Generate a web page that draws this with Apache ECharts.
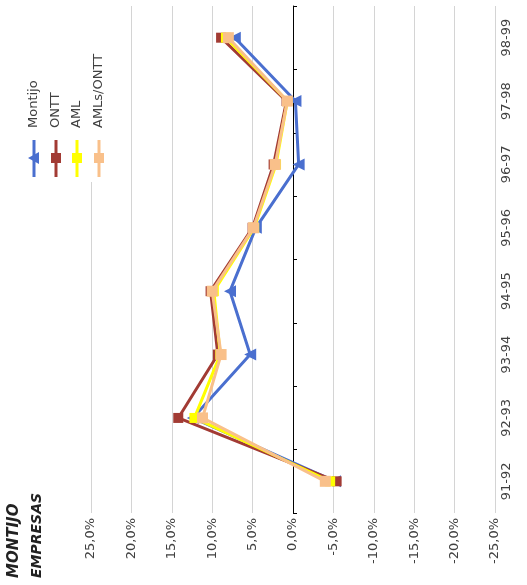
<!DOCTYPE html>
<html>
<head>
<meta charset="utf-8">
<script src="https://cdn.jsdelivr.net/npm/echarts@6/dist/echarts.min.js"></script>
<style>html,body{margin:0;padding:0;background:#fff;}#c{width:527px;height:585px;}</style>
</head>
<body>
<div id="c"></div>
<script>
const categories = ['91-92','92-93','93-94','94-95','95-96','96-97','97-98','98-99'];
const seriesNames = ['Montijo','ONTT','AML','AMLs/ONTT'];
const montijo = [-5.2, 12.4, 5.3, 7.8, 4.6, -0.7, -0.3, 7.2];
const ontt = [-5.4, 14.2, 9.3, 10.2, 5.0, 2.4, 0.8, 8.9];
const aml = [-4.6, 12.2, 9.0, 9.8, 4.8, 2.1, 0.7, 8.3];
const amlsOntt = [-4.0, 11.2, 8.9, 10.0, 4.9, 2.2, 0.7, 8.0];
const titleLines = ['MONTIJO','EMPRESAS'];

const colors = ['#4a6fcf','#a23b34','#ffff00','#f9c08a'];
const symbols = ['triangle','rect','rect','rect'];
const symbolRot = [90,0,0,0];
const symbolSizes = [12,10,10,11];
const allData = [montijo, ontt, aml, amlsOntt];
const font = '"DejaVu Sans", "Open Sans", sans-serif';

const chart = echarts.init(document.getElementById('c'), null, {renderer:'canvas'});

const legendX = [34, 56, 77, 99];
const legendGraphics = [{
  type:'rect', shape:{x:14,y:0,width:104,height:182}, style:{fill:'#fff'}, z:5
}];
seriesNames.forEach((n,i)=>{
  legendGraphics.push({type:'line', shape:{x1:legendX[i],y1:177,x2:legendX[i],y2:140}, style:{stroke:colors[i],lineWidth:3}, z:6});
  if(symbols[i]==='triangle'){
    legendGraphics.push({type:'polygon', shape:{points:[[legendX[i]-6,158],[legendX[i]+5,152],[legendX[i]+5,164]]}, style:{fill:colors[i]}, z:7});
  } else {
    legendGraphics.push({type:'rect', shape:{x:legendX[i]-5,y:153,width:10,height:10}, style:{fill:colors[i]}, z:7});
  }
  legendGraphics.push({type:'text', x:legendX[i], y:128, rotation:Math.PI/2, style:{text:n, fill:'#404040', font:'13px '+font, textAlign:'left', textVerticalAlign:'middle'}, z:7});
});
legendGraphics.push({type:'text', x:14, y:578, rotation:Math.PI/2, style:{text:titleLines[0], fill:'#222', font:'italic bold 15px '+font, textAlign:'left', textVerticalAlign:'middle'}, z:7});
legendGraphics.push({type:'text', x:37, y:578, rotation:Math.PI/2, style:{text:titleLines[1], fill:'#222', font:'italic bold 14px '+font, textAlign:'left', textVerticalAlign:'middle'}, z:7});

chart.setOption({
  animation:false,
  backgroundColor:'#fff',
  grid:{left:91, right:32, top:6, bottom:72, containLabel:false},
  xAxis:{
    type:'value', inverse:true, min:-25, max:25, interval:5,
    axisLine:{show:false}, axisTick:{show:false},
    splitLine:{show:true, lineStyle:{color:'#d4d4d4', width:1}},
    axisLabel:{rotate:90, margin:5, color:'#404040', fontSize:13, fontFamily:font,
      formatter:v=>v.toFixed(1).replace('.',',')+'%'}
  },
  yAxis:[{
    type:'category', data:categories, position:'right',
    axisLine:{onZero:true, lineStyle:{color:'#000', width:1}},
    axisTick:{show:true, length:4, lineStyle:{color:'#000'}},
    axisLabel:{show:false}, splitLine:{show:false}
  },{
    type:'category', data:categories, position:'right',
    axisLine:{show:false, onZero:false}, axisTick:{show:false}, splitLine:{show:false},
    axisLabel:{rotate:90, margin:5, color:'#404040', fontSize:13, fontFamily:font}
  }],
  series: seriesNames.map((n,i)=>({
    name:n, type:'line', data:allData[i], yAxisIndex:0,
    symbol:symbols[i], symbolSize:symbolSizes[i], symbolRotate:symbolRot[i],
    lineStyle:{color:colors[i], width:3},
    itemStyle:{color:colors[i]},
    z: 2+i
  })),
  graphic: legendGraphics
});
</script>
</body>
</html>
